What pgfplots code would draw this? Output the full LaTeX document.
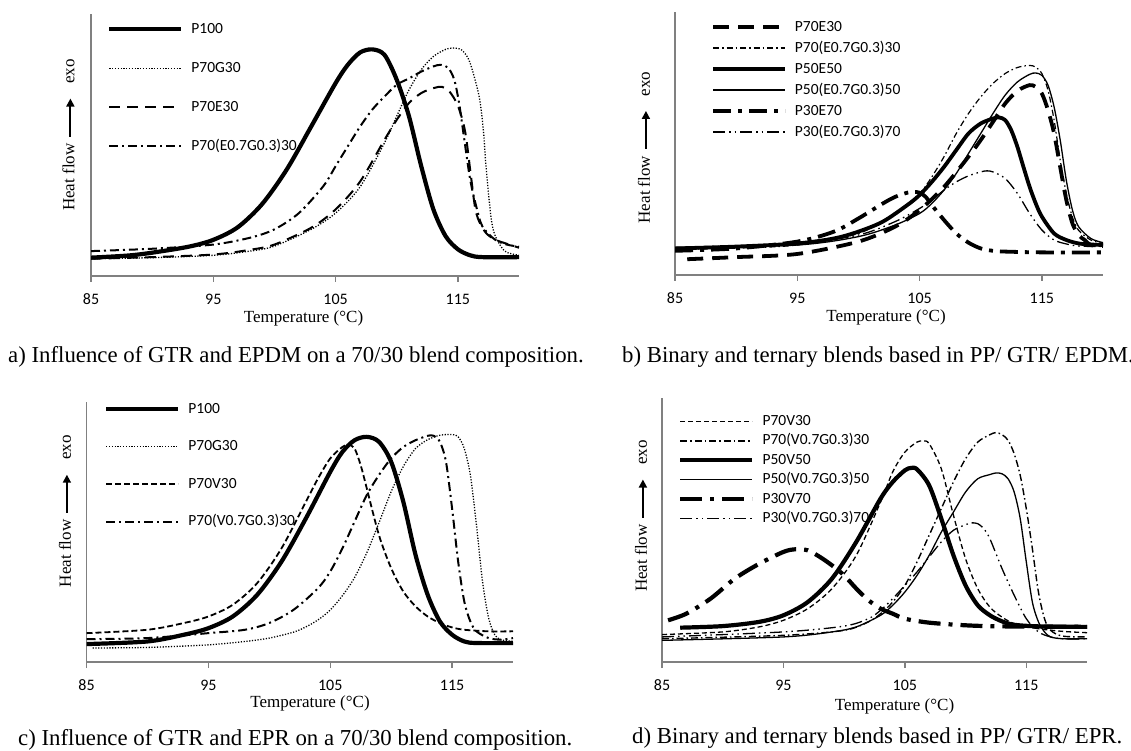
\documentclass[border=0pt]{standalone}
\usepackage{pgfplots}
\pgfplotsset{compat=1.18}
\usetikzlibrary{arrows.meta}
\usepackage{fontspec}
\setmainfont{Liberation Serif}
\newfontfamily\calibri{Carlito}
\newcommand\heatarrow{\tikz[baseline=-4pt]\draw[line width=1.8pt,-{Triangle[length=8pt,width=8pt]}] (0pt,0pt)--(38pt,0pt);}
\tikzset{lblfont/.style={font=\fontsize{17}{17}\selectfont}}
\pgfplotsset{
  dscpanel/.style={
    scale only axis, xmin=85, xmax=120, ymin=0, ymax=100,
    axis x line*=bottom, axis y line*=left,
    axis line style={draw=black!50, line width=1.3pt},
    xtick={85,95,105,115}, ytick=\empty,
    tick align=outside, major tick length=6pt,
    every tick/.style={draw=black!50, line width=1.3pt},
    x tick label style={font=\calibri\fontsize{16}{16}\selectfont, anchor=center, yshift=-17pt},
    /pgf/number format/assume math mode=true,
    xlabel={Temperature (°C)},
    ylabel={Heat flow\hspace{6pt}\heatarrow\hspace{14pt}exo},
    legend style={draw=none, fill=none, inner sep=0pt, column sep=8pt,
      font=\calibri\fontsize{15.5}{15.5}\selectfont,
      nodes={inner sep=0pt, text height=11pt, text depth=3pt},
      anchor=north west},
    legend cell align=left,
    legend image code/.code={\draw[##1] (0pt,0pt) -- (72pt,0pt);},
    every axis plot/.append style={black, smooth, line join=round},
  },
  thk/.style={line width=4.2pt},
  thn/.style={line width=1.3pt},
}
\begin{document}
\begin{tikzpicture}
\useasboundingbox (0pt,0pt) rectangle (1131pt,750pt);
% ---------------- panel a
\begin{axis}[dscpanel, at={(91pt,474pt)}, anchor=south west, width=428pt, height=262pt,
  every axis x label/.style={at={(axis description cs:0.4965,-0.160)}, anchor=center, lblfont},
  every axis y label/.style={at={(axis description cs:-0.0526,0.538)}, anchor=center, rotate=90, lblfont},
  legend style={at={(axis description cs:0.0374,0.969)}, row sep=25pt}]
\addplot[thk] coordinates {(85,7.0) (88,7.8) (90,8.9) (93,11.2) (95,13.8) (97,18.6) (99,27.5) (101,40.6) (103,57) (105,73.6) (106,80.6) (107,85.3) (108,86.5) (109,84.4) (110,74.9) (111,61) (112,42) (113,25.4) (114,15.2) (115,10.2) (116,7.9) (117,7.2) (120,7.2)};
\addplot[line width=1.3pt, dash pattern=on 1.2pt off 1.6pt] coordinates {(85,6.6) (90,7.0) (95,7.9) (98,9.5) (100,11.4) (103,17.8) (105,24) (107,34) (109,50.8) (110,61) (111,71) (112,78.7) (113,83.8) (114,86.5) (114.6,87) (115.3,86.3) (115.9,82.5) (116.4,75) (116.8,67) (117.1,55) (117.3,42) (117.7,22.8) (118,16) (118.5,11.4) (119,9) (120,7.9)};
\addplot[line width=2pt, dash pattern=on 11pt off 7pt] coordinates {(85,6.6) (90,7.2) (95,8.2) (98,10) (100,12) (103,18.4) (105,25.4) (107,36) (109,52) (110,59.6) (111,66) (112,69.8) (113,71.7) (113.7,72.2) (114.3,70.5) (115,65) (115.6,55) (116.1,37) (116.5,24) (117.2,17) (118,14) (119,12.3) (120,10.8)};
\addplot[line width=2pt, dash pattern=on 9pt off 4pt on 2pt off 4pt] coordinates {(85,9.5) (90,10.4) (95,12) (98,14.6) (100,17.8) (102,24) (104,34.3) (105,41.9) (106,49.5) (107,57) (108,63.5) (109,68.5) (110,73) (111,75.4) (112,78) (113,80) (113.6,80.6) (114.2,79.5) (114.7,75) (115.1,66) (115.5,53) (116,37) (116.5,26.6) (117,19) (118,14) (119,12) (120,11.2)};
\legend{P100,P70G30,P70E30,P70(E0.7G0.3)30}
\end{axis}
% ---------------- panel b
\begin{axis}[dscpanel, at={(675pt,475pt)}, anchor=south west, width=428pt, height=263pt,
  every axis x label/.style={at={(axis description cs:0.493,-0.163)}, anchor=center, lblfont},
  every axis y label/.style={at={(axis description cs:-0.0724,0.485)}, anchor=center, rotate=90, lblfont},
  legend style={at={(axis description cs:0.084,0.970)}, row sep=7pt}]
\addplot[line width=3.8pt, dash pattern=on 16pt off 9pt] coordinates {(86,6) (90,6.8) (95,8) (100,12.7) (103,18.4) (105,24.7) (107,33.5) (109,45) (110,51.3) (111,58.2) (112,65.2) (113,70) (114,72.2) (114.5,71.5) (115,69) (115.5,62.7) (116,53.8) (116.5,41) (117,28.5) (117.5,19.6) (118,15.2) (118.5,13.3) (119,11.4) (120,11)};
\addplot[line width=1.2pt, dash pattern=on 6pt off 3pt on 1.5pt off 3pt] coordinates {(85,9.7) (90,10.2) (95,11.4) (100,15.8) (103,23.4) (105,31) (106,37.3) (107,45) (108,53.8) (109,61.4) (110,67.7) (111,72.8) (112,76.6) (113,78.9) (114,79.7) (114.5,79) (115,76.6) (115.5,70.3) (116,58.9) (116.5,43.7) (117,31) (117.5,22) (118,17) (119,13.3) (120,12)};
\addplot[line width=3.8pt] coordinates {(85,10.1) (90,10.8) (95,12) (98,13.9) (100,16.5) (102,20.3) (104,26.6) (105,30.4) (106,35.4) (107,41.1) (108,47.5) (109,53.8) (110,57.6) (111,59.5) (111.5,59.9) (112,58.9) (112.5,55) (113,48.7) (113.5,41) (114,33.5) (114.5,27.2) (115,22.2) (116,15.8) (117,13.3) (118,12) (119,11.6) (120,11.4)};
\addplot[thn] coordinates {(85,10.1) (95,11.4) (100,14.6) (103,19) (105,23.4) (106,27.2) (107,32.3) (108,38.6) (109,46.2) (110,53.8) (111,61.4) (112,68.4) (113,73.4) (114,76.3) (114.5,76.8) (115,75.9) (115.5,72.2) (116,63.9) (116.5,51.3) (117,36) (117.5,24.7) (118,18.4) (119,13.9) (120,12.3)};
\addplot[line width=3.8pt, dash pattern=on 18pt off 7pt on 4pt off 7pt] coordinates {(85,9.2) (90,10.1) (95,12.7) (98,16.5) (100,21.5) (102,27.2) (103,29.7) (104,31.3) (104.5,31.6) (105,31.3) (105.5,29.7) (106,26.6) (107,20.9) (108,15.8) (109,12.3) (110,10.1) (111,9.2) (112,8.9) (115,8.6) (120,8.6)};
\addplot[thn, dash pattern=on 12pt off 4pt on 1.5pt off 4pt on 1.5pt off 4pt] coordinates {(85,10.5) (95,12) (100,15.2) (103,20.3) (105,25.3) (106,28.5) (107,32.3) (108,35.4) (109,37.7) (110,39.2) (110.5,39.6) (111,39.2) (112,36.7) (113,31) (114,23.4) (115,17.1) (116,13.3) (117,11.8) (118,11) (120,10.8)};
\legend{P70E30,P70(E0.7G0.3)30,P50E50,P50(E0.7G0.3)50,P30E70,P30(E0.7G0.3)70}
\end{axis}
% ---------------- panel c
\begin{axis}[dscpanel, at={(86.5pt,88pt)}, anchor=south west, width=426.5pt, height=260pt,
  every axis x label/.style={at={(axis description cs:0.524,-0.158)}, anchor=center, lblfont},
  every axis y label/.style={at={(axis description cs:-0.0504,0.58)}, anchor=center, rotate=90, lblfont},
  legend style={at={(axis description cs:0.041,1.0)}, row sep=23.5pt}]
\addplot[thk] coordinates {(85,6.9) (90,7.9) (93,10.5) (95,13) (97,17.5) (99,25.8) (101,38.6) (103,55.2) (105,73.1) (106,80.8) (107,85.3) (108,86.6) (109,84.7) (110,77) (111,61.6) (112,41.2) (113,25.8) (114,15.6) (115,10.5) (116,7.9) (117,7.3) (120,7.3)};
\addplot[line width=1.3pt, dash pattern=on 1.2pt off 1.6pt] coordinates {(85.5,5.4) (90,5.6) (95,6.6) (98,7.9) (100,9.2) (102,11.5) (103,13.5) (104,16.2) (105,20) (106,25.5) (107,32.5) (108,42) (109,53.5) (110,65.5) (111,75.2) (112,82.1) (113,85.5) (114,87.2) (115,87.5) (115.5,86.6) (116,82.1) (116.5,71.9) (117,52.7) (117.5,30.9) (118,16.9) (118.5,10.5) (119,8.6) (120,7.9)};
\addplot[line width=1.8pt, dash pattern=on 6pt off 3pt] coordinates {(85,11.1) (90,12.4) (93,15) (95,17.5) (97,22) (99,30.3) (101,43.7) (103,61.6) (104,70.6) (105,78.3) (106,82.7) (106.5,83.6) (107,82.1) (107.5,75.7) (108,66.8) (109,48.8) (110,36.1) (111,27.1) (112,21.4) (113,17.5) (114,15) (115,13.3) (116,12.4) (118,11.8) (120,11.8)};
\addplot[line width=2pt, dash pattern=on 9pt off 4pt on 2pt off 4pt] coordinates {(85,8.8) (90,9.2) (95,11.1) (98,12.4) (100,15) (102,20.1) (104,28.4) (105,34.8) (106,43.7) (107,54) (108,64.2) (109,71.9) (110,78.3) (111,82.7) (112,85.3) (113,87) (113.5,87) (114,84.7) (114.5,77) (115,59.1) (115.5,38.6) (116,23.3) (116.5,15.6) (117,11.8) (118,9.2) (119,8.6) (120,9.2)};
\legend{P100,P70G30,P70V30,P70(V0.7G0.3)30}
\end{axis}
% ---------------- panel d
\begin{axis}[dscpanel, at={(662pt,88pt)}, anchor=south west, width=425pt, height=264pt,
  every axis x label/.style={at={(axis description cs:0.547,-0.170)}, anchor=center, lblfont},
  every axis y label/.style={at={(axis description cs:-0.0494,0.553)}, anchor=center, rotate=90, lblfont},
  legend style={at={(axis description cs:0.038,0.939)}, row sep=5.5pt}]
\addplot[thn, dash pattern=on 5pt off 3pt] coordinates {(85,10.4) (90,11.4) (93,13.3) (95,15.8) (97,20.2) (99,27.8) (101,40.4) (103,60.6) (104,72) (105,79.5) (106,83.3) (106.5,83.7) (107,82.7) (108,73.2) (109,55.6) (110,39.1) (111,27.8) (112,20.8) (113,17) (114,14.5) (115,13.6) (116,12.6) (118,11.6) (120,11.1)};
\addplot[line width=1.4pt, dash pattern=on 7pt off 3pt on 1.5pt off 3pt] coordinates {(85,8.8) (95,10.1) (100,12) (102,15.2) (103,18.3) (104,22.7) (105,29) (106,37.9) (107,48) (108,58.1) (109,68.2) (110,77) (111,83.3) (112,86.1) (112.5,86.9) (113,86.1) (113.5,84) (114,78.9) (114.5,70.7) (115,58.1) (115.5,42.9) (116,26.5) (116.5,16.4) (117,12) (118,9.8) (120,9.5)};
\addplot[thk] coordinates {(86.5,13) (90,13.6) (93,15.2) (95,17.7) (97,22.7) (99,31.6) (101,45.5) (103,61.9) (104,68.2) (105,72.6) (105.5,73.5) (106,73) (107,66.9) (108,54.3) (109,40.4) (110,29) (111,21.5) (112,17.7) (113,15.4) (114,14.1) (116,13.5) (120,13.3)};
\addplot[thn] coordinates {(85,8.2) (95,9.5) (99,11.4) (101,13.3) (103,17.7) (104,21.5) (105,26.5) (106,32.8) (107,40.4) (108,49.2) (109,56.8) (110,64.4) (111,69.4) (112,71) (112.5,71.6) (113,71.3) (113.5,69.4) (114,64.4) (114.5,54.3) (115,37.9) (115.5,22.7) (116,15.2) (116.5,11.4) (117,9.5) (118,8.8) (120,8.8)};
\addplot[thk, dash pattern=on 22pt off 8pt on 4pt off 8pt] coordinates {(85.5,15.8) (87,18.3) (89,24) (91,31.6) (93,37.2) (95,41.7) (96,42.7) (97,42.3) (98,39.8) (99,36.6) (100,32.8) (101,27.8) (102,23.4) (103,20.2) (104,18.3) (105,16.4) (107,14.9) (110,13.9) (113,13.5) (120,13.3)};
\addplot[thn, dash pattern=on 12pt off 4pt on 1.5pt off 4pt on 1.5pt off 4pt] coordinates {(85,9.5) (95,11.4) (100,13.6) (102,16.4) (103,19.6) (104,24) (105,29) (106,34.1) (107,39.8) (108,45.5) (109,49.9) (110,52) (110.5,52.7) (111,52.4) (111.5,50.5) (112,46.7) (113,35.4) (114,25.3) (115,16.4) (116,11.4) (117,9.5) (118,8.8) (120,8.8)};
\legend{P70V30,P70(V0.7G0.3)30,P50V50,P50(V0.7G0.3)50,P30V70,P30(V0.7G0.3)70}
\end{axis}
% ---------------- captions
\begin{scope}[every node/.style={font=\fontsize{22.8}{24}\selectfont, inner sep=0pt, anchor=base west}]
\node at (8pt,387pt) {a) Influence of GTR and EPDM on a 70/30 blend composition.};
\node at (622pt,387pt) {b) Binary and ternary blends based in PP/ GTR/ EPDM.};
\node at (18pt,5pt) {c) Influence of GTR and EPR on a 70/30 blend composition.};
\node at (632pt,7pt) {d) Binary and ternary blends based in PP/ GTR/ EPR.};
\end{scope}
\end{tikzpicture}
\end{document}
